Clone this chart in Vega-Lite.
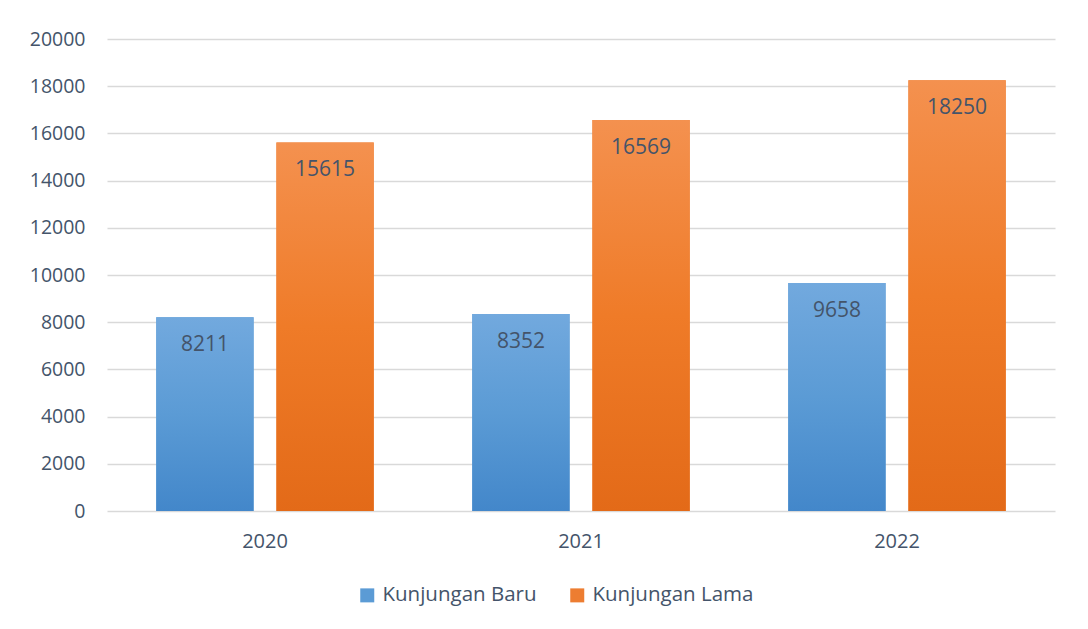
{
  "$schema": "https://vega.github.io/schema/vega-lite/v6.json",
  "autosize": {"type": "none"},
  "width": 948,
  "height": 472,
  "padding": {"left": 107, "top": 39, "right": 33, "bottom": 118},
  "background": "white",
  "config": {
    "view": {"stroke": null},
    "font": "Open Sans"
  },
  "data": {
    "values": [
      {"year": "2020", "series": "Kunjungan Baru", "value": 8211},
      {"year": "2020", "series": "Kunjungan Lama", "value": 15615},
      {"year": "2021", "series": "Kunjungan Baru", "value": 8352},
      {"year": "2021", "series": "Kunjungan Lama", "value": 16569},
      {"year": "2022", "series": "Kunjungan Baru", "value": 9658},
      {"year": "2022", "series": "Kunjungan Lama", "value": 18250}
    ]
  },
  "encoding": {
    "x": {
      "field": "year", "type": "nominal", "title": null,
      "scale": {"paddingInner": 0, "paddingOuter": 0},
      "axis": {"labelAngle": 0, "ticks": false, "domain": false, "labelPadding": 20,
        "labelFont": "Open Sans", "labelFontSize": 20, "labelColor": "#44546A"}
    },
    "xOffset": {
      "field": "series", "type": "nominal",
      "scale": {"paddingInner": 0.19, "paddingOuter": 0.41}
    },
    "y": {
      "field": "value", "type": "quantitative", "title": null,
      "scale": {"domain": [0, 20000], "nice": false},
      "axis": {
        "values": [0, 2000, 4000, 6000, 8000, 10000, 12000, 14000, 16000, 18000, 20000],
        "format": "d", "ticks": false, "domain": false, "labelPadding": 22,
        "labelFont": "Open Sans", "labelFontSize": 19.5, "labelColor": "#44546A",
        "gridColor": "#D9D9D9", "gridWidth": 1.5
      }
    }
  },
  "layer": [
    {
      "mark": {"type": "bar"},
      "encoding": {
        "color": {
          "field": "series", "type": "nominal",
          "scale": {"domain": ["Kunjungan Baru", "Kunjungan Lama"], "range": ["#5B9BD5", "#ED7D31"]},
          "legend": {
            "orient": "none", "legendX": 250, "legendY": 546, "title": null, "direction": "horizontal",
            "symbolType": "square", "symbolSize": 196, "symbolStrokeWidth": 0,
            "labelFontSize": 20.5, "labelColor": "#44546A", "labelFont": "Open Sans", "labelLimit": 400,
            "columnPadding": 30, "labelOffset": 5
          }
        }
      }
    },
    {
      "mark": {"type": "bar"},
      "encoding": {
        "fill": {
          "condition": {
            "test": "datum.series === 'Kunjungan Baru'",
            "value": {"gradient": "linear", "x1": 0, "y1": 0, "x2": 0, "y2": 1,
              "stops": [{"offset": 0, "color": "#72A9DE"}, {"offset": 0.5, "color": "#5B9BD5"}, {"offset": 1, "color": "#4387CA"}]}
          },
          "value": {"gradient": "linear", "x1": 0, "y1": 0, "x2": 0, "y2": 1,
            "stops": [{"offset": 0, "color": "#F4914F"}, {"offset": 0.5, "color": "#EF7B28"}, {"offset": 1, "color": "#E36A18"}]}
        }
      }
    },
    {
      "mark": {"type": "text", "baseline": "middle", "dy": 28, "fontSize": 21, "color": "#44546A", "font": "Open Sans"},
      "encoding": {"text": {"field": "value", "type": "quantitative", "format": "d"}}
    }
  ]
}
